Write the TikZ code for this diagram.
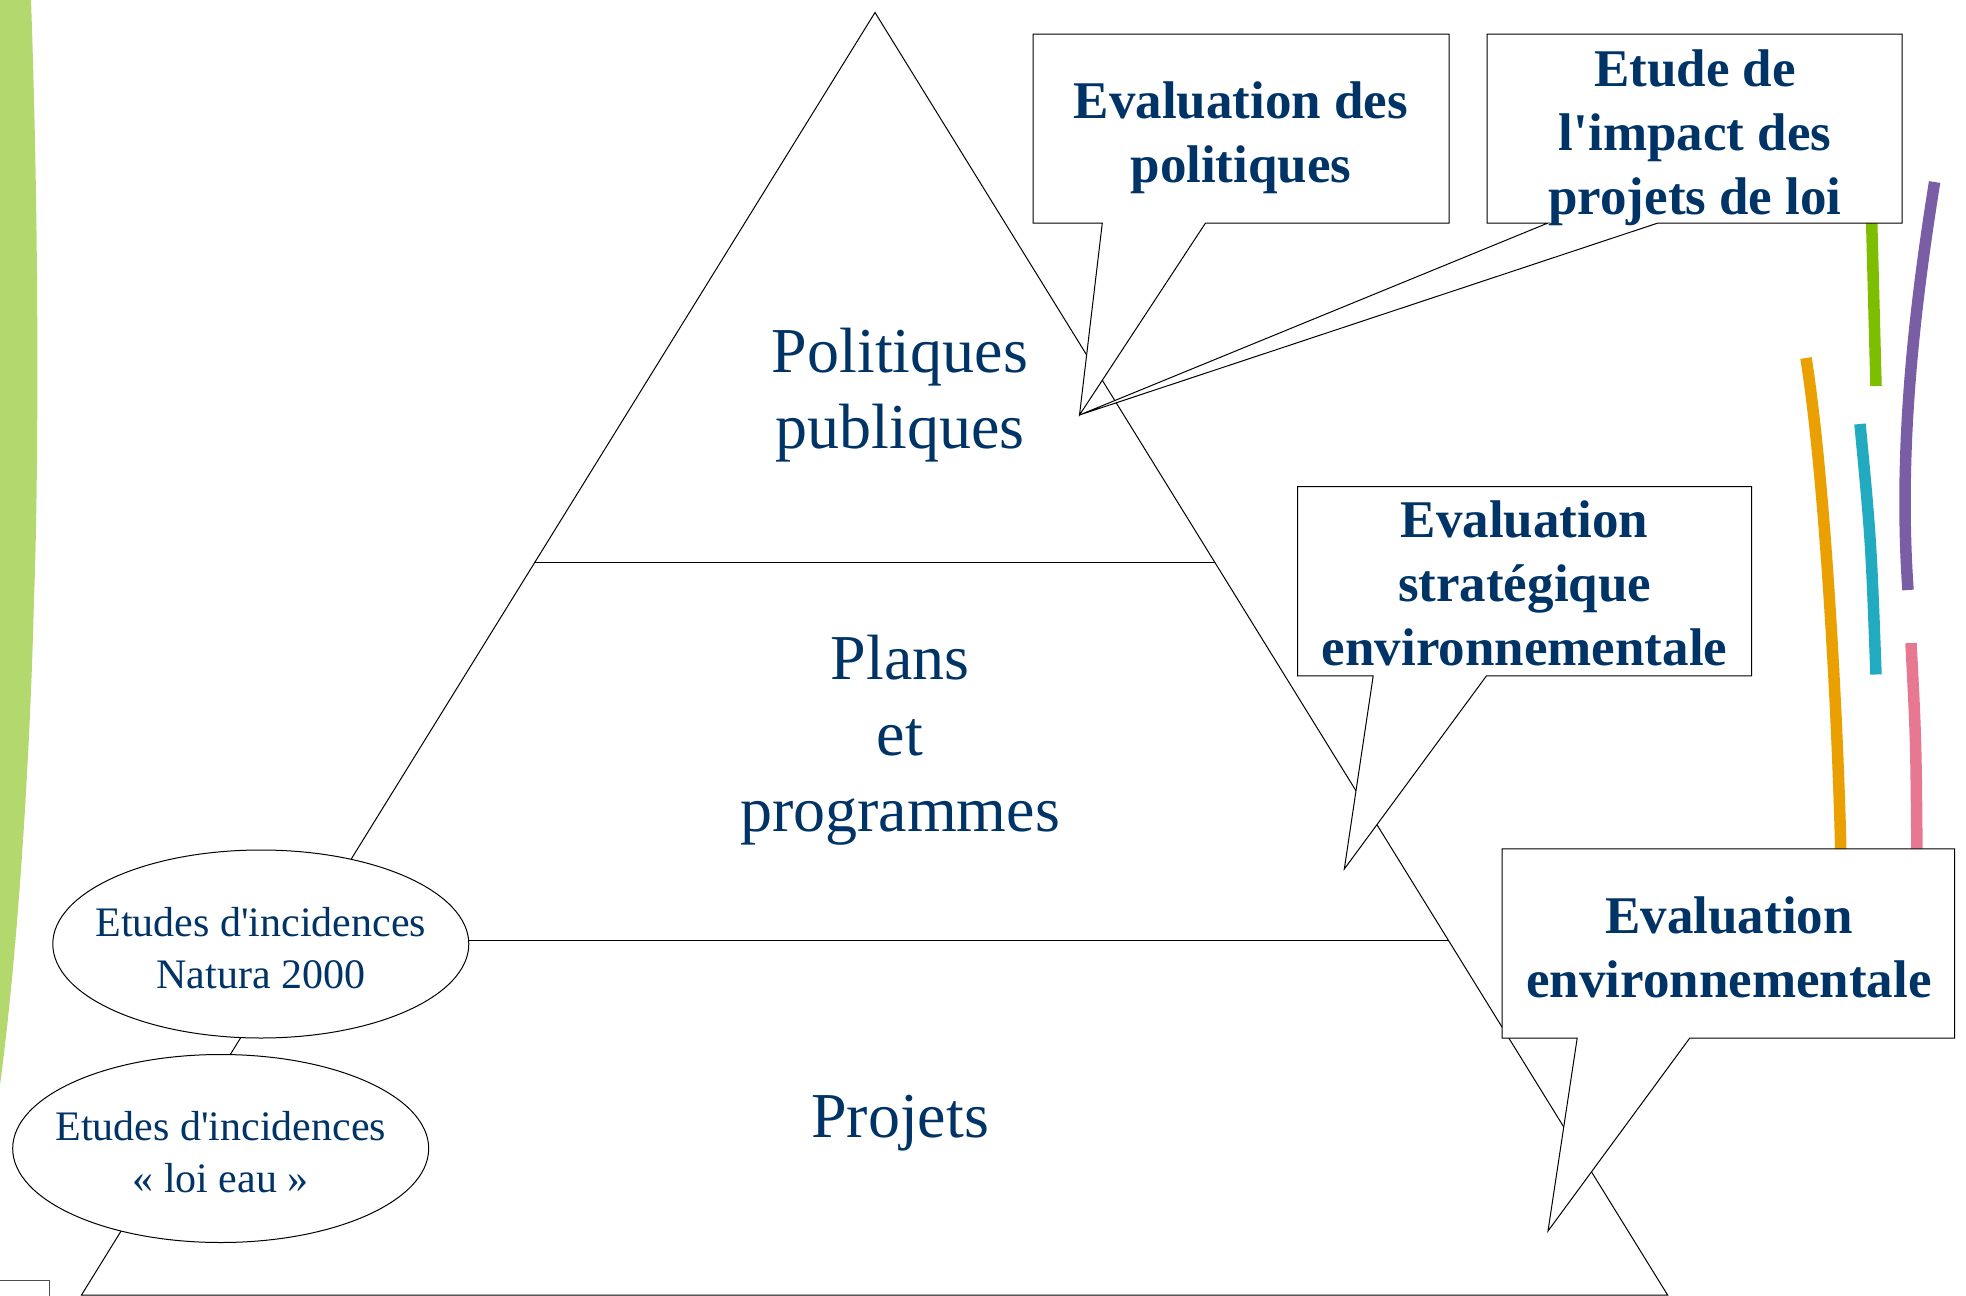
\documentclass[tikz,border=0pt]{standalone}
\usepackage{fontspec}
\setmainfont{Liberation Serif}
\usetikzlibrary{calc,shapes.geometric}
\definecolor{navytext}{RGB}{0,51,102}
\definecolor{leafgreen}{RGB}{179,216,110}
\definecolor{ribgreen}{RGB}{125,190,0}
\definecolor{ribpurple}{RGB}{122,94,165}
\definecolor{riborange}{RGB}{233,160,0}
\definecolor{ribcyan}{RGB}{34,170,193}
\definecolor{ribpink}{RGB}{232,120,145}

\begin{document}
\begin{tikzpicture}[x=1pt, y=-1pt,
    edge/.style={line width=1pt, black},
    level/.style={text=navytext, font=\fontsize{64}{76}\selectfont, align=center, inner sep=0pt},
    incid/.style={ellipse, draw, fill=white, line width=1pt, minimum width=416pt, minimum height=188pt, inner sep=0pt},
    incidtext/.style={text=navytext, font=\fontsize{42}{52}\selectfont, align=center, inner sep=0pt},
    bubble/.style={draw, fill=white, line width=1pt},
    bubbletext/.style={text=navytext, font=\bfseries\fontsize{53}{64}\selectfont, align=center, inner sep=0pt},
    ribbon/.style={line width=11.5pt}]
    \useasboundingbox (0,0) rectangle (1966,1296);

    % Left leaf
    \fill[leafgreen] (0,0) -- (31,0) .. controls (40,250) and (38,500) .. (34,600) .. controls (30,760) and (18,950) .. (0,1085) -- cycle;

    % Coloured ribbons
    \draw[ribbon, ribgreen] (1871.5,215) .. controls (1874,300) .. (1876,386);
    \draw[ribbon, ribpurple] (1934.6,182) .. controls (1912.8,318) and (1898.5,454) .. (1908,590);
    \draw[ribbon, riborange] (1806,358) .. controls (1825,478) and (1838,719) .. (1841,860);
    \draw[ribbon, ribcyan] (1860,424) .. controls (1871,540) .. (1876,674.5);
    \draw[ribbon, ribpink] (1911,643) .. controls (1916,740) .. (1917,860);

    % Footer corner
    \draw[line width=0.8pt, black!70] (0,1280) -- (49,1280) -- (49,1300);

    % Pyramid
    \coordinate (apex) at (875,12.5);
    \coordinate (baseL) at (81.5,1295);
    \coordinate (baseR) at (1667.6,1295);
    \draw[edge] (baseL) -- (apex) -- (baseR) -- cycle;
    \draw[edge] ($(baseL)!0.5708!(apex)$) -- ($(baseR)!0.5708!(apex)$);
    \draw[edge] ($(baseL)!0.2768!(apex)$) -- ($(baseR)!0.2768!(apex)$);

    % Levels
    \node[level] (politiques) at (900,395) {Politiques\\publiques};
    \node[level] (plans) at (900,740) {Plans\\et\\programmes};
    \node[level] (projets) at (900,1123) {Projets};

    % Incidence studies
    \node[incid] (natura) at (260.8,944) {};
    \node[incidtext] (naturatext) at (260.8,948) {Etudes d\textquotesingle incidences\\Natura 2000};
    \node[incid] (loieau) at (220.7,1148.5) {};
    \node[incidtext] (loieautext) at (220.7,1152) {Etudes d\textquotesingle incidences\\« loi eau »};

    % Callouts
    \coordinate (tipPol) at (1079.5,415);
    \coordinate (tipPlan) at (1344.3,869);
    \coordinate (tipProj) at (1548,1231);
    \filldraw[bubble] (1033,34) -- (1449,34) -- (1449,223) -- (1205.5,223) -- (tipPol) -- (1102.3,223) -- (1033,223) -- cycle;
    \node[bubbletext] (evalpol) at (1241,138) {Evaluation des\\politiques};
    \filldraw[bubble] (1487,34) -- (1902,34) -- (1902,223) -- (1658,223) -- (tipPol) -- (1548,223) -- (1487,223) -- cycle;
    \node[bubbletext] (impact) at (1695,137.5) {Etude de\\l\textquotesingle impact des\\projets de loi};
    \filldraw[bubble] (1297.7,486.5) -- (1751.6,486.5) -- (1751.6,675.8) -- (1486.5,675.8) -- (tipPlan) -- (1373.2,675.8) -- (1297.7,675.8) -- cycle;
    \node[bubbletext] (strat) at (1524.6,583) {Evaluation\\stratégique\\environnementale};
    \filldraw[bubble] (1502,848.8) -- (1954.7,848.8) -- (1954.7,1038) -- (1689.8,1038) -- (tipProj) -- (1577.2,1038) -- (1502,1038) -- cycle;
    \node[bubbletext] (envir) at (1729,947.5) {Evaluation\\environnementale};
\end{tikzpicture}
\end{document}
